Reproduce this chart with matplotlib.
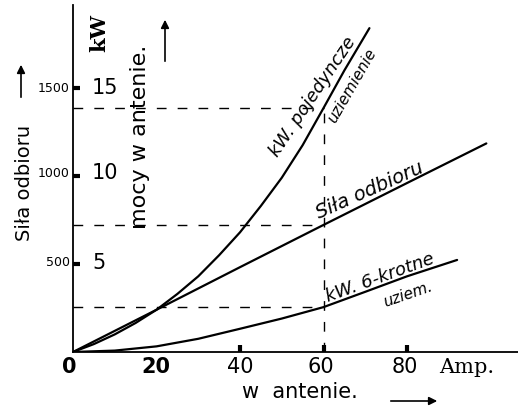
import matplotlib
matplotlib.use("Agg")
import matplotlib.pyplot as plt

# ---- data ----
amp_single = [0, 5, 10, 15, 20, 25, 30, 35, 40, 45, 50, 55, 60, 65, 71]
kw_single = [0, 45, 100, 165, 240, 330, 430, 550, 680, 830, 990, 1175, 1386, 1600, 1840]

amp_sila = [0, 20, 40, 60, 80, 99]
sila = [0, 240, 482, 722, 960, 1185]

amp_six = [0, 10, 20, 30, 40, 50, 60, 70, 80, 92]
kw_six = [0, 8, 32, 75, 132, 190, 255, 342, 430, 523]

x_ticks = [0, 20, 40, 60, 80]
x_ticklabels = ["0", "20", "40", "60", "80"]
y_ticks = [500, 1000, 1500]
y_left_labels = ["500", "1000", "1500"]
y_right_labels = ["5", "10", "15"]
ref_amp = 60

W, H = 518, 411
fig = plt.figure(figsize=(W / 100, H / 100), dpi=100)
fig.patch.set_facecolor("white")

# origin at pixel (73, 352)
x0, y0 = 73, 352
ax = fig.add_axes([x0 / W, (H - y0) / H, (W - x0) / W, (y0 - 5) / H])
ax.set_xlim(0, (W - x0) / 4.175)
ax.set_ylim(0, (y0 - 5) / 0.176)
ax.patch.set_alpha(0)
for s in ["top", "right"]:
    ax.spines[s].set_visible(False)
for s in ["left", "bottom"]:
    ax.spines[s].set_linewidth(1.3)

lw = 1.6
ax.plot(amp_single, kw_single, color="black", lw=lw, solid_capstyle="round", solid_joinstyle="round")
ax.plot(amp_sila, sila, color="black", lw=lw, solid_capstyle="round", solid_joinstyle="round")
ax.plot(amp_six, kw_six, color="black", lw=lw, solid_capstyle="round", solid_joinstyle="round")

# dashed reference lines at 60 A
v1 = kw_single[amp_single.index(ref_amp)]
v2 = sila[amp_sila.index(ref_amp)]
v3 = kw_six[amp_six.index(ref_amp)]
dash = dict(color="black", lw=1.0, dashes=(7, 8))
for v in (v1, v2, v3):
    ax.plot([0, ref_amp], [v, v], **dash)
ax.plot([ref_amp, ref_amp], [0, v1], **dash)

# ticks
ax.set_xticks([40, 60, 80])
ax.set_xticklabels([])
ax.set_yticks(y_ticks)
ax.set_yticklabels([])
ax.tick_params(axis="both", direction="in", length=5, width=3, color="black")

def px(x, y):
    return x / W, 1 - y / H

# x tick labels
xpix = {0: 69, 20: 156, 40: 240, 60: 321, 80: 405}
for t, lab in zip(x_ticks, x_ticklabels):
    fig.text(*px(xpix[t], 367), lab, ha="center", va="center", fontsize=15,
             family="DejaVu Sans", weight="bold" if t in (0, 20) else "normal")
fig.text(*px(467, 367), "Amp.", ha="center", va="center", fontsize=15, family="DejaVu Serif")

# y tick labels
ypix = {500: 263, 1000: 173, 1500: 88}
for t, l1, l2 in zip(y_ticks, y_left_labels, y_right_labels):
    fig.text(*px(70, ypix[t]), l1, ha="right", va="center", fontsize=9, family="DejaVu Sans")
    fig.text(*px(92, ypix[t]), l2, ha="left", va="center", fontsize=15, family="DejaVu Sans")

# axis labels
fig.text(*px(25, 183), "Siła odbioru", rotation=90, ha="center", va="center", fontsize=14,
         family="DejaVu Sans")
fig.text(*px(99, 33), "kW", rotation=90, ha="center", va="center", fontsize=15,
         family="DejaVu Serif", weight="bold")
fig.text(*px(140, 137), "mocy w antenie.", rotation=90, ha="center", va="center",
         fontsize=16, family="DejaVu Sans")
fig.text(*px(300, 392), "w  antenie.", ha="center", va="center", fontsize=15, family="DejaVu Sans")

# arrows
arr = dict(arrowstyle="-|>", color="black", lw=1.2, mutation_scale=12)
fig.patches.append(matplotlib.patches.FancyArrowPatch(px(21, 100), px(21, 62), transform=fig.transFigure, **arr))
fig.patches.append(matplotlib.patches.FancyArrowPatch(px(165, 64), px(165, 17), transform=fig.transFigure, **arr))
fig.patches.append(matplotlib.patches.FancyArrowPatch(px(388, 401), px(440, 401), transform=fig.transFigure, **arr))

# curve labels
fig.text(*px(313, 97), "kW. pojedyncze", rotation=56, ha="center", va="center", fontsize=13,
         style="italic", family="DejaVu Sans", rotation_mode="anchor")
fig.text(*px(352, 86), "uziemienie", rotation=60, ha="center", va="center", fontsize=11,
         style="italic", family="DejaVu Sans", rotation_mode="anchor")
fig.text(*px(370, 190), "Siła odbioru", rotation=24, ha="center", va="center", fontsize=14,
         style="italic", family="DejaVu Sans", rotation_mode="anchor")
fig.text(*px(380, 278), "kW. 6-krotne", rotation=20, ha="center", va="center", fontsize=13,
         style="italic", family="DejaVu Sans", rotation_mode="anchor")
fig.text(*px(408, 294), "uziem.", rotation=19, ha="center", va="center", fontsize=11,
         style="italic", family="DejaVu Sans", rotation_mode="anchor")

fig.savefig("out.png", dpi=100, facecolor="white")
